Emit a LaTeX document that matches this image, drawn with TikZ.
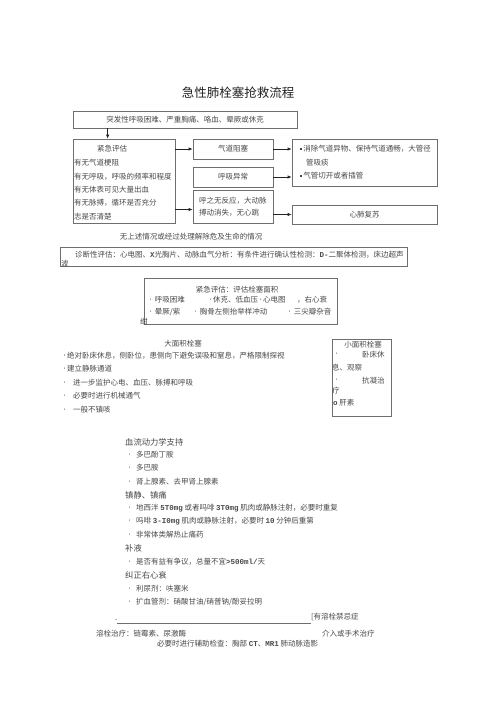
\documentclass[tikz,border=0pt]{standalone}
\usepackage{fontspec}
\setmainfont{Noto Sans CJK SC}
\newfontfamily\courfont{Liberation Mono}
\usetikzlibrary{arrows.meta}
\newcommand\bodyfont{\fontsize{7.5}{9}\selectfont}
\newcommand\monob[1]{{\courfont\bfseries #1}}
\newcommand\dotb{\raisebox{1.2pt}{\fontsize{5}{5}\selectfont\textbullet}}
\newcommand\sqb{\rule[0.25em]{1.5pt}{1.5pt}}
\tikzset{
  box/.style={draw=color0,line width=0.7pt,inner sep=0pt,font=\bodyfont,text=color1},
  txt/.style={anchor=west,inner sep=0pt,font=\bodyfont,text=color1},
  head/.style={txt,font=\fontsize{8.3}{10}\selectfont},
  arr/.style={-{Latex[length=4pt,width=3.5pt]},line width=0.7pt,color2},
}
\begin{document}
\begin{tikzpicture}[x=1pt,y=-1pt]
\definecolor{color0}{HTML}{6E6E6E}
\definecolor{color1}{HTML}{484848}
\definecolor{color2}{HTML}{222222}
\useasboundingbox (0,0) rectangle (500,707);
\node[anchor=center,font=\fontsize{12.5}{14}\selectfont,text=color2] (title) at (238,93) {急性肺栓塞抢救流程};
\node[box,minimum width=224pt,minimum height=17pt] (onset) at (185,119.5) {突发性呼吸困难、严重胸痛、咯血、晕厥或休克};
\node[box,minimum width=102pt,minimum height=84pt] (assess) at (124,181) {};
\node[txt,anchor=center] (assessT) at (112,149) {紧急评估};
\foreach \t [count=\i] in {有无气道梗阻,有无呼吸，呼吸的频率和程度,有无体表可见大量出血,有无脉搏，循环是否充分,志是否清楚}
  \node[txt] (assess\i) at (74,149.5+13.4*\i) {\t};
\node[box,minimum width=80pt,minimum height=20pt] (airway) at (233,149) {气道阻塞};
\node[box,minimum width=80pt,minimum height=20pt] (breath) at (233,177) {呼吸异常};
\node[box,minimum width=80pt,minimum height=33pt] (unresp) at (233,206.5) {};
\node[txt] (unresp1) at (199,201) {呼之无反应，大动脉};
\node[txt] (unresp2) at (199,213) {搏动消失，无心跳};
\node[box,minimum width=145pt,minimum height=47pt] (clear) at (364.5,162.5) {};
\node[txt] (clear1) at (300,149) {\sqb\ 消除气道异物、保持气道通畅，大管径};
\node[txt] (clear2) at (306,163) {管吸痰};
\node[txt] (clear3) at (300,176) {\sqb\ 气管切开或者插管};
\node[box,minimum width=145pt,minimum height=19pt] (cpr) at (364.5,214.5) {心肺复苏};
\draw[arr] ([xshift=35pt]assess.north west |- onset.south) -- ([xshift=35pt]assess.north west);
\draw[arr] (assess.east |- airway.west) -- (airway.west);
\draw[arr] ([yshift=-3pt]assess.east |- unresp.west) -- ([yshift=-3pt]unresp.west);
\draw[arr] (airway.east) -- (airway.east -| clear.west);
\draw[arr] (breath.east) -- (breath.east -| clear.west);
\draw[arr] (unresp.east |- cpr.west) -- (cpr.west);
\node[txt,anchor=center] (nolife) at (191,237) {无上述情况或经过处理解除危及生命的情况};
\node[box,minimum width=347pt,minimum height=19pt] (diag) at (233.5,257) {};
\node[txt] (diag1) at (75,255) {诊断性评估：心电图、\monob{X}光胸片、动脉血气分析：有条件进行确认性检测：\monob{D-}二聚体检测，床边超声};
\node[txt] (diag2) at (61,264) {波};
\node[box,minimum width=193pt,minimum height=46pt] (area) at (240.5,301) {};
\node[txt,anchor=center] (areaT) at (237,290) {紧急评估：评估栓塞面积};
\node[txt] (area1) at (148,300) {\dotb\ 呼吸困难};
\node[txt] (area2) at (208,300) {\dotb 休克、低血压\dotb 心电图};
\node[txt] (area3) at (297,300) {，右心衰};
\node[txt] (area4) at (148,312) {\dotb\ 晕厥/紫};
\node[txt] (area5) at (193,312) {\dotb\ 胸骨左侧抬举样冲动};
\node[txt] (area6) at (287,312) {\dotb\ 三尖瓣杂音};
\node[txt] (area7) at (140,322) {绀};
\node[txt,anchor=center] (largeT) at (183,344) {大面积栓塞};
\node[txt] (large1) at (62,356) {\dotb 绝对卧床休息，侧卧位，患侧向下避免误吸和窒息，严格限制探视};
\node[txt] (large2) at (62,369) {\dotb 建立静脉通道};
\node[txt] (large3) at (62,383) {\dotb\hspace{6pt}进一步监护心电、血压、脉搏和呼吸};
\node[txt] (large4) at (62,396) {\dotb\hspace{6pt}必要时进行机械通气};
\node[txt] (large5) at (62,410) {\dotb\hspace{6pt}一般不镇咳};
\node[box,minimum width=59pt,minimum height=77pt] (small) at (361.5,377.5) {};
\node[txt,anchor=center] (smallT) at (363,345) {小面积栓塞};
\node[txt] (small1) at (334,355) {\dotb};
\node[txt] (small2) at (362,355) {卧床休};
\node[txt] (small3) at (332,368) {息、观察};
\node[txt] (small4) at (334,381) {\dotb};
\node[txt] (small5) at (362,381) {抗凝治};
\node[txt] (small6) at (332,391) {疗};
\node[txt] (small7) at (333,403) {\monob{o} 肝素};
\node[head] (hemo) at (125,442) {血流动力学支持};
\node[txt] (hemo1) at (127,455) {\dotb\hspace{4pt}多巴酚丁胺};
\node[txt] (hemo2) at (127,468) {\dotb\hspace{4pt}多巴胺};
\node[txt] (hemo3) at (127,482) {\dotb\hspace{4pt}肾上腺素、去甲肾上腺素};
\node[head] (sed) at (125,495) {镇静、镇痛};
\node[txt] (sed1) at (127,508) {\dotb\hspace{4pt}地西泮 \monob{5T0mg} 或者吗啡 \monob{3T0mg} 肌肉或静脉注射，必要时重复};
\node[txt] (sed2) at (127,521) {\dotb\hspace{4pt}吗啡 \monob{3-I0mg} 肌肉或静脉注射，必要时 \monob{10} 分钟后重第};
\node[txt] (sed3) at (127,535) {\dotb\hspace{4pt}非常体类解热止痛药};
\node[head] (fluid) at (125,548) {补液};
\node[txt] (fluid1) at (127,562) {\dotb\hspace{4pt}是否有益有争议，总量不宜\monob{>500ml/}天};
\node[head] (rhf) at (125,575) {纠正右心衰};
\node[txt] (rhf1) at (127,589) {\dotb\hspace{4pt}利尿剂：呋塞米};
\node[txt] (rhf2) at (127,602) {\dotb\hspace{4pt}扩血管剂：硝酸甘油/硝普钠/酚妥拉明};
\node[txt] (contra) at (311,617) {[有溶栓禁忌症};
\coordinate (ruleL) at (117,623);
\draw[color0,line width=0.7pt] (ruleL) -- (ruleL -| contra.west);
\node[txt] (dotL) at (115,620) {.};
\node[txt] (lysis) at (96,634) {溶栓治疗：链霉素、尿激酶};
\node[txt] (interv) at (322,634) {介入或手术治疗};
\node[txt] (aux) at (157,644) {必要时进行辅助检查：胸部 \monob{CT}、\monob{MR1} 肺动脉造影};
\end{tikzpicture}
\end{document}
